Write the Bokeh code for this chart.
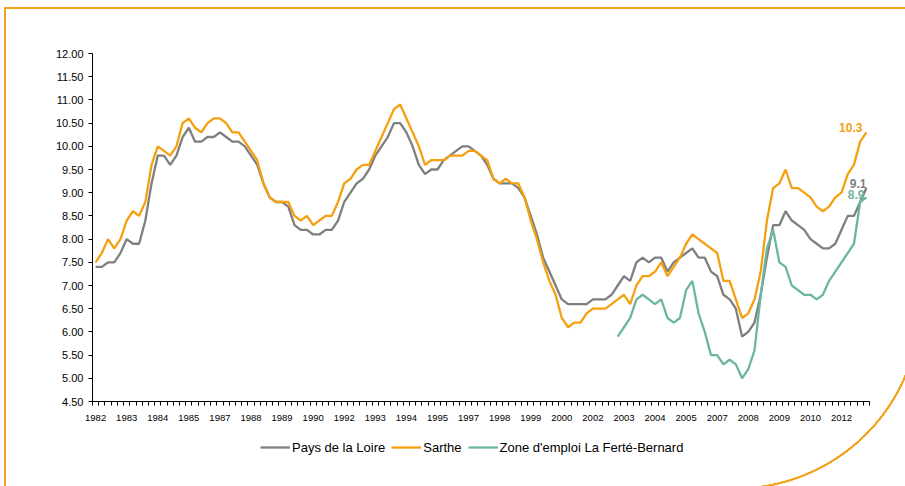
from bokeh.plotting import figure
from bokeh.layouts import column
from bokeh.models import (Range1d, FixedTicker, Legend, LegendItem,
                          ColumnDataSource, NumeralTickFormatter)
from bokeh.core.properties import value
from bokeh.embed import file_html
from bokeh.resources import INLINE

# ---------------- data (quarterly unemployment rate, %) ----------------
pays_de_la_loire = [
    7.4, 7.4, 7.5, 7.5, 7.7, 8.0, 7.9, 7.9, 8.4, 9.2,
    9.8, 9.8, 9.6, 9.8, 10.2, 10.4, 10.1, 10.1, 10.2, 10.2,
    10.3, 10.2, 10.1, 10.1, 10.0, 9.8, 9.6, 9.2, 8.9, 8.8,
    8.8, 8.7, 8.3, 8.2, 8.2, 8.1, 8.1, 8.2, 8.2, 8.4,
    8.8, 9.0, 9.2, 9.3, 9.5, 9.8, 10.0, 10.2, 10.5, 10.5,
    10.3, 10.0, 9.6, 9.4, 9.5, 9.5, 9.7, 9.8, 9.9, 10.0,
    10.0, 9.9, 9.8, 9.6, 9.3, 9.2, 9.2, 9.2, 9.1, 8.9,
    8.5, 8.1, 7.6, 7.3, 7.0, 6.7, 6.6, 6.6, 6.6, 6.6,
    6.7, 6.7, 6.7, 6.8, 7.0, 7.2, 7.1, 7.5, 7.6, 7.5,
    7.6, 7.6, 7.3, 7.5, 7.6, 7.7, 7.8, 7.6, 7.6, 7.3,
    7.2, 6.8, 6.7, 6.5, 5.9, 6.0, 6.2, 6.8, 7.6, 8.3,
    8.3, 8.6, 8.4, 8.3, 8.2, 8.0, 7.9, 7.8, 7.8, 7.9,
    8.2, 8.5, 8.5, 8.8, 9.1,
]
sarthe = [
    7.5, 7.7, 8.0, 7.8, 8.0, 8.4, 8.6, 8.5, 8.8, 9.6,
    10.0, 9.9, 9.8, 10.0, 10.5, 10.6, 10.4, 10.3, 10.5, 10.6,
    10.6, 10.5, 10.3, 10.3, 10.1, 9.9, 9.7, 9.2, 8.9, 8.8,
    8.8, 8.8, 8.5, 8.4, 8.5, 8.3, 8.4, 8.5, 8.5, 8.8,
    9.2, 9.3, 9.5, 9.6, 9.6, 9.9, 10.2, 10.5, 10.8, 10.9,
    10.6, 10.3, 10.0, 9.6, 9.7, 9.7, 9.7, 9.8, 9.8, 9.8,
    9.9, 9.9, 9.8, 9.7, 9.3, 9.2, 9.3, 9.2, 9.2, 8.9,
    8.4, 8.0, 7.5, 7.1, 6.8, 6.3, 6.1, 6.2, 6.2, 6.4,
    6.5, 6.5, 6.5, 6.6, 6.7, 6.8, 6.6, 7.0, 7.2, 7.2,
    7.3, 7.5, 7.2, 7.4, 7.6, 7.9, 8.1, 8.0, 7.9, 7.8,
    7.7, 7.1, 7.1, 6.7, 6.3, 6.4, 6.7, 7.3, 8.4, 9.1,
    9.2, 9.5, 9.1, 9.1, 9.0, 8.9, 8.7, 8.6, 8.7, 8.9,
    9.0, 9.4, 9.6, 10.1, 10.3,
]
zone_start = 84  # first quarter with data for the employment zone
zone_la_ferte_bernard = [
    5.9, 6.1, 6.3, 6.7, 6.8, 6.7, 6.6, 6.7, 6.3, 6.2,
    6.3, 6.9, 7.1, 6.4, 6.0, 5.5, 5.5, 5.3, 5.4, 5.3,
    5.0, 5.2, 5.6, 6.8, 7.8, 8.2, 7.5, 7.4, 7.0, 6.9,
    6.8, 6.8, 6.7, 6.8, 7.1, 7.3, 7.5, 7.7, 7.9, 8.8,
    8.9,
]
tick_positions = list(range(0, 125, 5))
tick_labels = ["1982", "1983", "1984", "1985", "1987", "1988", "1989", "1990",
               "1992", "1993", "1994", "1995", "1997", "1998", "1999", "2000",
               "2002", "2003", "2004", "2005", "2007", "2008", "2009", "2010", "2012"]
series_names = ["Pays de la Loire", "Sarthe", "Zone d'emploi La Ferté-Bernard"]

GRAY = "#7f7f7f"
ORANGE = "#f5a00f"
TEAL = "#6cb5a3"
FRAME = "#f4a31c"
FONT = "Liberation Sans"

n = len(sarthe)
x_all = list(range(n))
x_zone = list(range(zone_start, zone_start + len(zone_la_ferte_bernard)))

# decorative page frame (top and left rules + partly hidden circle) as CSS background
deco = ", ".join([
    f"linear-gradient({FRAME}, {FRAME}) 4px 7px / 901px 2px no-repeat",
    f"linear-gradient({FRAME}, {FRAME}) 4px 7px / 2px 479px no-repeat",
    "linear-gradient(#ffffff, #ffffff) 0px 0px / 748px 486px no-repeat",
    "linear-gradient(#ffffff, #ffffff) 748px 0px / 157px 300px no-repeat",
    f"radial-gradient(circle 200px at 735px 303.5px, rgba(255,255,255,0) 183.8px, "
    f"{FRAME} 184.2px, {FRAME} 186.0px, rgba(255,255,255,0) 186.4px) 0px 0px / 905px 486px no-repeat",
    "#ffffff",
])

W, H1, H2 = 905, 425, 61
p = figure(width=W, height=H1, output_backend="svg", toolbar_location=None,
           x_range=Range1d(-0.5, n - 0.5), y_range=Range1d(4.5, 12.0),
           min_border_left=92, min_border_right=36, min_border_top=53, min_border_bottom=24)
p.outline_line_color = None
p.xgrid.visible = False
p.ygrid.visible = False
p.background_fill_color = "white"
p.border_fill_color = None

# y axis
p.yaxis.ticker = FixedTicker(ticks=[4.5 + 0.5 * k for k in range(16)])
p.yaxis.formatter = NumeralTickFormatter(format="0.00")
p.yaxis.axis_line_color = "black"
p.yaxis.major_tick_line_color = "black"
p.yaxis.major_tick_in = 0
p.yaxis.major_tick_out = 4
p.yaxis.minor_tick_line_color = None
p.yaxis.major_label_text_font = FONT
p.yaxis.major_label_text_font_size = "11px"
p.yaxis.major_label_text_color = "black"
p.yaxis.major_label_standoff = 5

# x axis
p.xaxis.ticker = FixedTicker(ticks=tick_positions,
                             minor_ticks=[k - 0.5 for k in range(n + 1)])
p.xaxis.major_label_overrides = {t: lab for t, lab in zip(tick_positions, tick_labels)}
p.xaxis.axis_line_color = "black"
p.xaxis.major_tick_line_color = None
p.xaxis.minor_tick_line_color = "black"
p.xaxis.minor_tick_in = 0
p.xaxis.minor_tick_out = 4
p.xaxis.major_label_text_font = FONT
p.xaxis.major_label_text_font_size = "9.5px"
p.xaxis.major_label_text_color = "black"
p.xaxis.major_label_standoff = 7

line_styles = [dict(line_color=GRAY, line_width=2.3),
               dict(line_color=ORANGE, line_width=2.3),
               dict(line_color=TEAL, line_width=2.3)]
series_x = [x_all, x_all, x_zone]
series_y = [pays_de_la_loire, sarthe, zone_la_ferte_bernard]
for xs, ys, st in zip(series_x, series_y, line_styles):
    p.line(xs, ys, **st)

# end labels
lab_src = ColumnDataSource(dict(
    x=[n - 1, n - 1, n - 1],
    y=[sarthe[-1], pays_de_la_loire[-1], zone_la_ferte_bernard[-1]],
    text=[f"{sarthe[-1]:.1f}", f"{pays_de_la_loire[-1]:.1f}", f"{zone_la_ferte_bernard[-1]:.1f}"],
    color=[ORANGE, GRAY, TEAL],
    xo=[-4, 0, -2],
    yo=[-5, -5, -3],
))
p.text(x="x", y="y", text="text", text_color="color", x_offset="xo", y_offset="yo",
       source=lab_src, text_align="right", text_baseline="middle",
       text_font=value(FONT), text_font_size="12px", text_font_style="bold")

# legend strip below the chart (its renderers hold the same series, but the
# strip's ranges keep them out of view, so only the legend entries are seen)
leg = figure(width=W, height=H2, output_backend="svg", toolbar_location=None,
             x_range=Range1d(0, 1), y_range=Range1d(0, 1),
             min_border=0, x_axis_type=None, y_axis_type=None)
leg.outline_line_color = None
leg.xgrid.visible = False
leg.ygrid.visible = False
leg.background_fill_color = None
leg.border_fill_color = None
leg_renderers = [leg.line(xs, ys, **st) for xs, ys, st in zip(series_x, series_y, line_styles)]

legend = Legend(items=[LegendItem(label=nm, renderers=[r])
                       for nm, r in zip(series_names, leg_renderers)],
                orientation="horizontal", location=(168, 28.7), padding=0, margin=0,
                spacing=6, glyph_width=30, label_standoff=2,
                border_line_color=None, background_fill_alpha=0,
                label_text_font=FONT, label_text_font_size="13px", label_text_color="black")
leg.add_layout(legend)

layout = column(p, leg, spacing=0, styles={"background": deco})
open("out.html", "w").write(file_html(layout, INLINE))
